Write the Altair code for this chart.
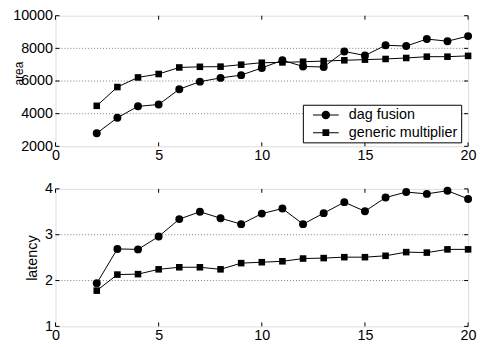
import altair as alt
import pandas as pd

# ---- data ----
xs = list(range(2, 21))
area_dag = [2800, 3750, 4450, 4560, 5500, 5960, 6190, 6360, 6800, 7270, 6890, 6860, 7810, 7560, 8190, 8140, 8570, 8440, 8750]
area_gen = [4480, 5630, 6220, 6430, 6830, 6870, 6880, 7000, 7120, 7140, 7180, 7220, 7270, 7310, 7350, 7410, 7490, 7490, 7540]
lat_dag = [1.94, 2.69, 2.68, 2.96, 3.34, 3.50, 3.36, 3.23, 3.46, 3.57, 3.23, 3.47, 3.71, 3.51, 3.81, 3.93, 3.89, 3.96, 3.78]
lat_gen = [1.78, 2.13, 2.14, 2.245, 2.29, 2.29, 2.245, 2.38, 2.40, 2.42, 2.48, 2.49, 2.51, 2.51, 2.54, 2.62, 2.61, 2.68, 2.68]
series = ["dag fusion", "generic multiplier"]
x_ticks = [0, 5, 10, 15, 20]
area_ticks = [2000, 4000, 6000, 8000, 10000]
lat_ticks = [1, 2, 3, 4]

rows = []
for i, x in enumerate(xs):
    rows.append({"x": x, "area": area_dag[i], "latency": lat_dag[i], "series": series[0]})
    rows.append({"x": x, "area": area_gen[i], "latency": lat_gen[i], "series": series[1]})
df = pd.DataFrame(rows)

FONT = "Liberation Sans"
FS = 14.5
W = 417
TL = 4  # inward tick length

# legend symbols: thin filled bar (the line) through the marker
circle_path = ("M-3.25,-0.125H3.25V0.125H-3.25Z"
               "M1.08,0A1.08,1.08,0,1,1,-1.08,0A1.08,1.08,0,1,1,1.08,0Z")
square_path = ("M-3.25,-0.125H3.25V0.125H-3.25Z"
               "M-0.85,-0.85H0.85V0.85H-0.85Z")


def panel(field, ticks, title, title_x, title_fs, title_y, H, show_legend):
    xscale = alt.Scale(domain=[0, 20], nice=False, zero=False)
    yscale = alt.Scale(domain=[ticks[0], ticks[-1]], nice=False, zero=False)
    xa = alt.Axis(values=x_ticks, title=None, grid=False, domain=False,
                  ticks=False, labelPadding=2, labelFlush=False,
                  format="d", labelFont=FONT, labelFontSize=FS, labelColor="black")
    ya_kw = dict(values=ticks, title=title, grid=False, domain=False,
                 ticks=False, labelPadding=3, labelFlush=False,
                 format="d", labelFont=FONT, labelFontSize=FS, labelColor="black",
                 titleFont=FONT, titleFontSize=title_fs, titleFontWeight="normal",
                 titleColor="black", titleX=title_x, titleBaseline="alphabetic",
                 titleAngle=270)
    if title_y is not None:
        ya_kw["titleY"] = title_y
    ya = alt.Axis(**ya_kw)

    def X(f):
        return alt.X(f"{f}:Q", scale=xscale, axis=xa, title=None)

    def Y(f):
        return alt.Y(f"{f}:Q", scale=yscale, axis=ya, title=title)

    ydf = pd.DataFrame({"v": ticks})
    xdf = pd.DataFrame({"v": x_ticks})
    grid = alt.Chart(pd.DataFrame({"v": ticks[1:-1]})).mark_rule(
        color="#808080", strokeWidth=1, strokeDash=[1, 2]).encode(
        y=Y("v"), x=alt.value(0), x2=alt.value(W))
    yt_left = alt.Chart(ydf).mark_rule(color="black", strokeWidth=1).encode(
        y=Y("v"), x=alt.value(0), x2=alt.value(TL))
    yt_right = alt.Chart(ydf).mark_rule(color="black", strokeWidth=1).encode(
        y=Y("v"), x=alt.value(W - TL), x2=alt.value(W))
    xt_bot = alt.Chart(xdf).mark_rule(color="black", strokeWidth=1).encode(
        x=X("v"), y=alt.value(H), y2=alt.value(H - TL))
    xt_top = alt.Chart(xdf).mark_rule(color="black", strokeWidth=1).encode(
        x=X("v"), y=alt.value(0), y2=alt.value(TL))

    line = alt.Chart(df).mark_line(color="black", strokeWidth=1).encode(
        x=X("x"), y=Y(field), detail="series:N")
    pts = alt.Chart(df).mark_point(filled=True, color="black", opacity=1).encode(
        x=X("x"), y=Y(field),
        shape=alt.Shape("series:N", scale=alt.Scale(domain=series, range=["circle", "square"]), legend=None),
        size=alt.Size("series:N", scale=alt.Scale(domain=series, range=[64, 44]), legend=None),
    )
    layers = [grid, yt_left, yt_right, xt_bot, xt_top, line, pts]
    if show_legend:
        leg = alt.Chart(df).transform_filter("false").mark_point(
            filled=True, color="black", opacity=1, size=64
        ).encode(
            shape=alt.Shape("series:N", title=None,
                            scale=alt.Scale(domain=series, range=[circle_path, square_path]),
                            legend=alt.Legend(orient="none", legendX=250, legendY=H - 42,
                                              padding=3, strokeColor="black", fillColor="white",
                                              cornerRadius=0, symbolOffset=13, labelOffset=16,
                                              labelFont=FONT, labelFontSize=FS, labelColor="black",
                                              rowPadding=2, symbolSize=64,
                                              symbolFillColor="black", symbolOpacity=1)))
        layers.append(leg)
    ch = alt.layer(*layers)
    if show_legend:
        ch = ch.resolve_scale(shape="independent", size="independent")
    return ch.properties(width=W, height=H)


top = panel("area", area_ticks, "area", -33, 12, 58, 132, True)
bottom = panel("latency", lat_ticks, "latency", -19, FS, None, 139, False)

chart = alt.vconcat(top, bottom, spacing=18).properties(
    padding={"left": 4, "top": -3, "right": 0, "bottom": 0}
).configure_view(stroke="black", strokeWidth=1).configure(background="white")

chart.save("out.html", embed_options={"renderer": "svg", "actions": False})
